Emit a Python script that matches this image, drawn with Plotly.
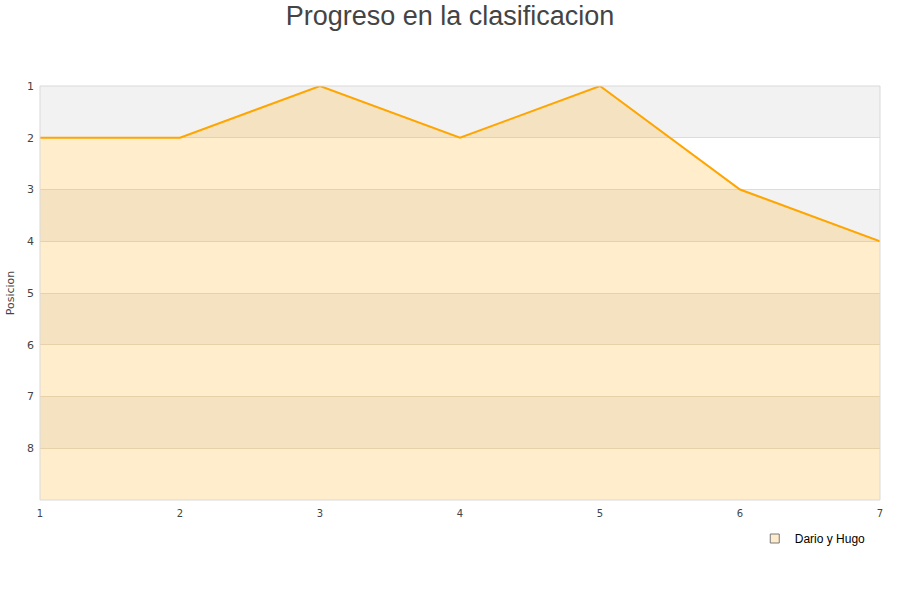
import plotly.graph_objects as go

jornadas = [1, 2, 3, 4, 5, 6, 7]
posicion = [2, 2, 1, 2, 1, 3, 4]
serie = "Dario y Hugo"
y_ticks = [1, 2, 3, 4, 5, 6, 7, 8]
y_bottom = 9

fig = go.Figure()
fig.add_trace(go.Scatter(x=jornadas, y=[y_bottom] * len(jornadas), mode="lines",
                         line=dict(width=0), showlegend=False, hoverinfo="skip"))
fig.add_trace(go.Scatter(x=jornadas, y=posicion, mode="lines", name=serie,
                         line=dict(color="#FFA500", width=2), showlegend=False,
                         fill="tonexty", fillcolor="rgba(255,165,0,0.2)"))
# legend entry (square swatch)
fig.add_trace(go.Scatter(x=[None], y=[None], mode="markers", name=serie,
                         marker=dict(symbol="square", size=9, color="#FFECCC",
                                     line=dict(color="#7A7A7A", width=1))))

shapes = []
for i, t in enumerate(y_ticks):
    if i % 2 == 0:
        shapes.append(dict(type="rect", xref="paper", yref="y", x0=0, x1=1, y0=t, y1=t + 1,
                           fillcolor="#F2F2F2", line=dict(width=0), layer="below"))
shapes.append(dict(type="rect", xref="paper", yref="paper", x0=0, x1=1, y0=0, y1=1,
                   line=dict(color="#D9D9D9", width=1), layer="above"))

fig.update_layout(
    width=900, height=600,
    paper_bgcolor="white", plot_bgcolor="white",
    margin=dict(l=40, r=20, t=86, b=100, autoexpand=False),
    title=dict(text="Progreso en la clasificacion", x=0.5, xanchor="center",
               yref="container", y=1 - 16 / 600, yanchor="middle", pad=dict(t=0, b=0),
               font=dict(family="Liberation Sans, Arial, sans-serif", size=27, color="#444444")),
    font=dict(family="DejaVu Sans, Verdana, sans-serif", size=11, color="#444444"),
    shapes=shapes,
    xaxis=dict(range=[1, 7], tickvals=jornadas, showgrid=False, zeroline=False,
               ticks="", tickfont=dict(size=10), showline=False, automargin=False,
               ticklabelstandoff=6),
    yaxis=dict(range=[y_bottom, 1], tickvals=y_ticks, showgrid=True, gridcolor="#E0DCD4",
               gridwidth=1, zeroline=False, ticks="", tickfont=dict(size=11), automargin=False,
               ticklabelstandoff=5,
               title=dict(text="Posicion", font=dict(size=11), standoff=10)),
    legend=dict(x=0.989, y=-0.058, xanchor="right", yanchor="top", bgcolor="rgba(0,0,0,0)",
                font=dict(family="Liberation Sans, Arial, sans-serif", size=12, color="#000000")),
    showlegend=True,
)
fig.write_html("out.html", config={"displayModeBar": False},
               post_script="document.body.style.margin='0';")
